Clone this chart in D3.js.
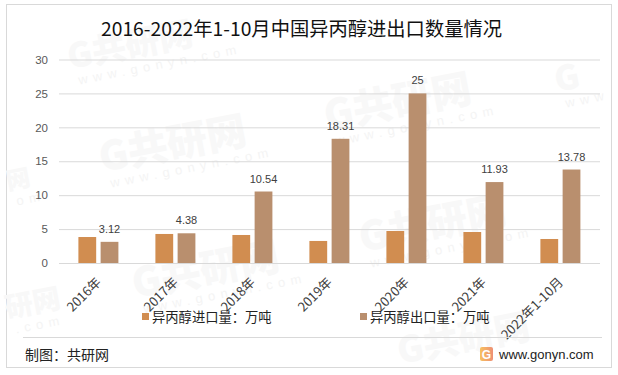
<!DOCTYPE html>
<html>
<head>
<meta charset="utf-8">
<script src="https://cdn.jsdelivr.net/npm/d3@7"></script>
<style>
  html, body { margin: 0; padding: 0; background: #fff; }
  svg { display: block; }
</style>
</head>
<body>
<div id="chart"></div>
<script>
const categories = ["2016年", "2017年", "2018年", "2019年", "2020年", "2021年", "2022年1-10月"]
const importValues = [3.83, 4.28, 4.13, 3.25, 4.72, 4.57, 3.54]
const exportValues = [3.12, 4.38, 10.54, 18.31, 25, 11.93, 13.78]
const yTicks = [0, 5, 10, 15, 20, 25, 30]
const seriesNames = ["异丙醇进口量：万吨", "异丙醇出口量：万吨"]
const seriesColors = ["#d18d50", "#b98f6e"]
const titleText = "2016-2022年1-10月中国异丙醇进出口数量情况"
const sourceText = "制图：共研网"
const siteText = "www.gonyn.com"

const width = 618
const height = 375
const cjk = "'Noto Sans CJK SC', 'Noto Sans', sans-serif"
const latin = "'Liberation Sans', 'Noto Sans CJK SC', sans-serif"

const svg = d3.select("#chart")
  .append("svg")
  .attr("width", width)
  .attr("height", height)

// Outer frame
svg.append("rect")
  .attr("x", 6.5).attr("y", 4.5)
  .attr("width", 605).attr("height", 363)
  .attr("fill", "#fff")
  .attr("stroke", "#d9d9d9")

// Faint site watermarks, drawn under the chart. Edge ones keep only the part that is in the picture
const marks = [
  [70, 69, 34, "G共研网", siteText],
  [102, 172, 40, "G共研网", siteText],
  [135, 298, 40, "G共研网", siteText],
  [327, 130, 40, "G共研网", siteText],
  [362, 252, 40, "G共研网", siteText],
  [557, 92, 34, "G", "www"],
  [7, 318, 28, "研网", ".com"],
  [8, 190, 24, "网", "om"],
  [400, 364, 36, "G共研网", ""]
]
const mark = svg.append("g").selectAll("g")
  .data(marks)
  .join("g")
  .attr("transform", d => `translate(${d[0]},${d[1]}) rotate(-11)`)
mark.append("text")
  .text(d => d[3])
  .attr("font-family", cjk)
  .attr("font-size", d => d[2])
  .attr("font-weight", 900)
  .attr("fill", "#f8f8f8")
mark.append("text")
  .text(d => d[4])
  .attr("x", 6)
  .attr("y", 17)
  .attr("font-family", latin)
  .attr("font-size", 13)
  .attr("letter-spacing", 5.5)
  .attr("fill", "#f4f4f4")

const x = d3.scaleBand()
  .domain(categories)
  .range([59.5, 598.5])

const y = d3.scaleLinear()
  .domain([0, 30])
  .range([263, 59.5])

const inner = d3.scaleBand()
  .domain([0, 1])
  .range([0, 40])
  .paddingInner(0.2)

const barsLeft = c => x(c) + x.bandwidth() / 2 - 19.6

// Y axis with gridlines
const yAxis = svg.append("g")
  .attr("transform", "translate(59,0)")
  .call(d3.axisLeft(y).tickValues(yTicks).tickSize(-541).tickPadding(11))
yAxis.select(".domain").remove()
yAxis.selectAll(".tick line")
  .attr("stroke", "#d9d9d9")
yAxis.selectAll(".tick text")
  .attr("font-family", latin)
  .attr("font-size", 11.5)
  .attr("fill", "#595959")

// X axis labels
const xAxis = svg.append("g")
  .attr("transform", "translate(0,263)")
  .call(d3.axisBottom(x).tickSize(0).tickPadding(0))
xAxis.select(".domain").remove()
xAxis.selectAll(".tick text")
  .attr("font-family", cjk)
  .attr("font-size", 13)
  .attr("fill", "#404040")
  .attr("text-anchor", "end")
  .attr("dy", 0)
  .attr("y", 0)
  .attr("transform", "translate(4,20) rotate(-45)")

// Bars
const seriesValues = [importValues, exportValues]
seriesValues.forEach((values, i) => {
  svg.append("g")
    .selectAll("rect")
    .data(values)
    .join("rect")
    .attr("x", (d, j) => barsLeft(categories[j]) + inner(i))
    .attr("y", d => y(d))
    .attr("width", inner.bandwidth())
    .attr("height", d => y(0) - y(d))
    .attr("fill", seriesColors[i])
})

// Data labels, export series only
svg.append("g")
  .selectAll("text")
  .data(exportValues)
  .join("text")
  .text(d => d)
  .attr("x", (d, j) => barsLeft(categories[j]) + inner(1) + inner.bandwidth() / 2)
  .attr("y", d => y(d) - 9)
  .attr("text-anchor", "middle")
  .attr("font-family", latin)
  .attr("font-size", 11)
  .attr("fill", "#404040")

// Title
svg.append("text")
  .text(titleText)
  .attr("x", 301.5)
  .attr("y", 36)
  .attr("text-anchor", "middle")
  .attr("font-family", cjk)
  .attr("font-size", 19.3)
  .attr("fill", "#111")

// Legend
const legendX = [142, 360]
const legend = svg.append("g").selectAll("g")
  .data(seriesNames)
  .join("g")
  .attr("transform", (d, i) => `translate(${legendX[i]},313)`)
legend.append("rect")
  .attr("width", 7).attr("height", 7)
  .attr("fill", (d, i) => seriesColors[i])
legend.append("text")
  .text(d => d)
  .attr("x", 10)
  .attr("y", 9)
  .attr("font-family", cjk)
  .attr("font-size", 13.3)
  .attr("fill", "#222")

// Footer
svg.append("line")
  .attr("x1", 23).attr("x2", 602)
  .attr("y1", 337.5).attr("y2", 337.5)
  .attr("stroke", "#d9d9d9")
svg.append("text")
  .text(sourceText)
  .attr("x", 25)
  .attr("y", 360)
  .attr("font-family", cjk)
  .attr("font-size", 14)
  .attr("fill", "#222")

const grad = svg.append("defs").append("linearGradient").attr("id", "logo")
grad.append("stop").attr("offset", "0%").attr("stop-color", "#f7c15f")
grad.append("stop").attr("offset", "100%").attr("stop-color", "#ee8f73")
svg.append("rect")
  .attr("x", 480).attr("y", 347)
  .attr("width", 13).attr("height", 14)
  .attr("rx", 2)
  .attr("fill", "url(#logo)")
svg.append("text")
  .text("G")
  .attr("x", 486.5).attr("y", 358.5)
  .attr("text-anchor", "middle")
  .attr("font-family", latin)
  .attr("font-size", 12)
  .attr("font-weight", 700)
  .attr("fill", "#fff")
svg.append("text")
  .text(siteText)
  .attr("x", 499)
  .attr("y", 359)
  .attr("font-family", latin)
  .attr("font-size", 13)
  .attr("fill", "#222")
</script>
</body>
</html>
